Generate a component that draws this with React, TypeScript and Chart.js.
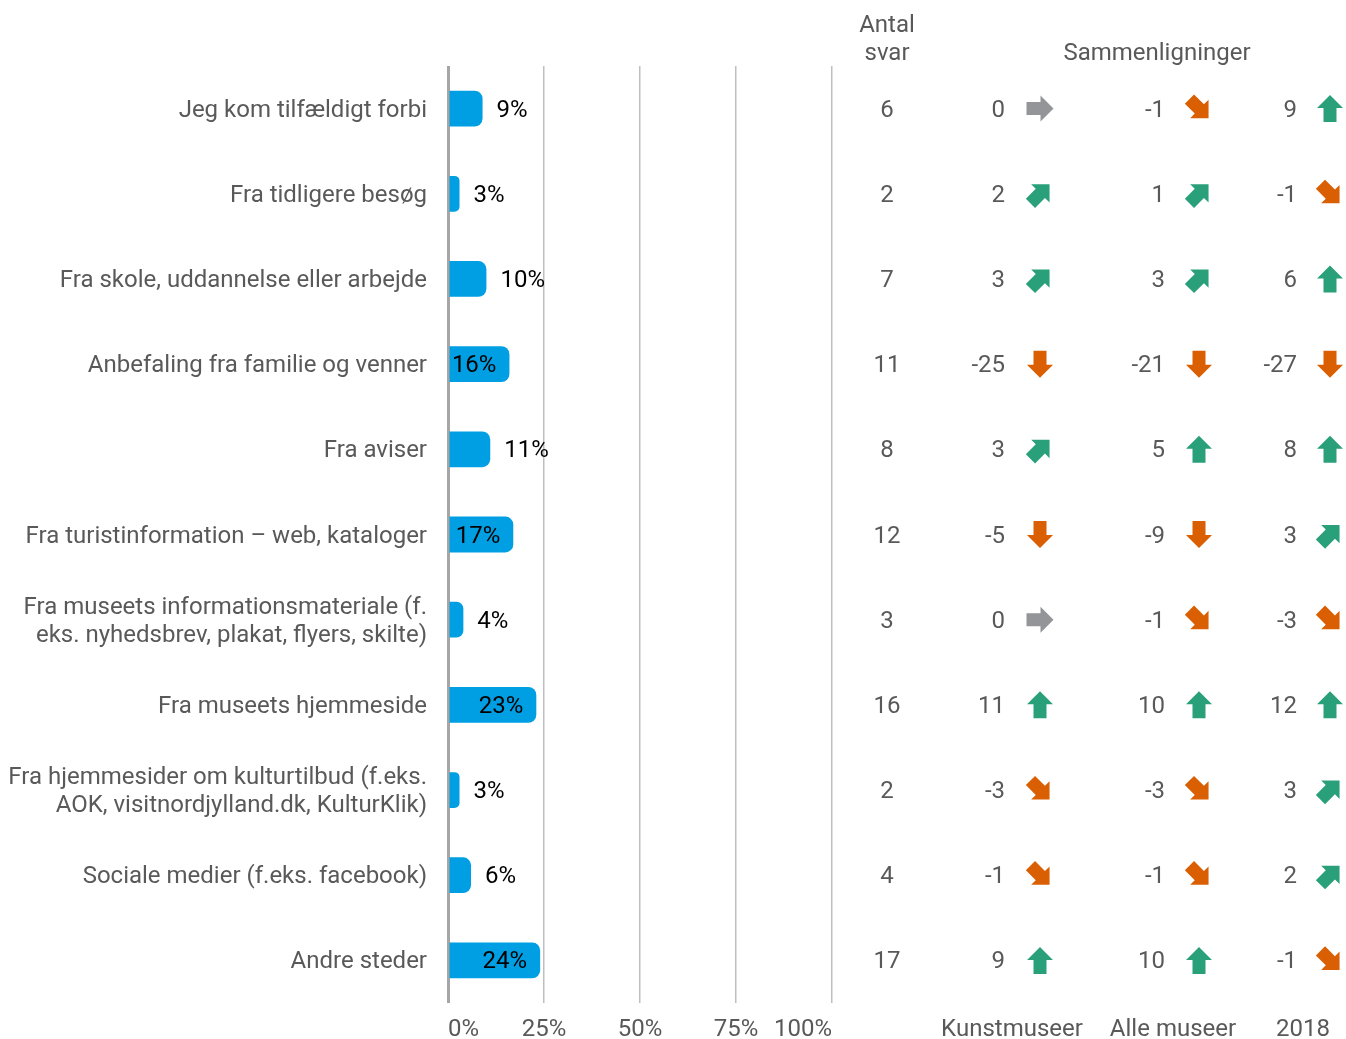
import React, { useEffect, useRef } from 'react';
import { Chart, registerables } from 'chart.js';

Chart.register(...registerables);

const FONT = 'Roboto';
const FS = 24;

const categories: (string | string[])[] = [
  'Jeg kom tilfældigt forbi',
  'Fra tidligere besøg',
  'Fra skole, uddannelse eller arbejde',
  'Anbefaling fra familie og venner',
  'Fra aviser',
  'Fra turistinformation – web, kataloger',
  ['Fra museets informationsmateriale (f.', 'eks. nyhedsbrev, plakat, flyers, skilte)'],
  'Fra museets hjemmeside',
  ['Fra hjemmesider om kulturtilbud (f.eks.', 'AOK, visitnordjylland.dk, KulturKlik)'],
  'Sociale medier (f.eks. facebook)',
  'Andre steder',
];

const percentages = [9, 3, 10, 16, 11, 17, 4, 23, 3, 6, 24];
const antalSvar = [6, 2, 7, 11, 8, 12, 3, 16, 2, 4, 17];
const kunstmuseer = [0, 2, 3, -25, 3, -5, 0, 11, -3, -1, 9];
const alleMuseer = [-1, 1, 3, -21, 5, -9, -1, 10, -3, -1, 10];
const aar2018 = [9, -1, 6, -27, 8, 3, -3, 12, 3, 2, -1];

const xTicks = [0, 25, 50, 75, 100];
const comparisonLabels = ['Kunstmuseer', 'Alle museer', '2018'];
const antalHeader = ['Antal', 'svar'];
const comparisonHeader = 'Sammenligninger';

const TEXT = '#595959';
const BAR = '#009FE3';
const GREEN = '#2AA07A';
const ORANGE = '#D95F02';
const GREY = '#939598';
const DY = 2; // optical vertical correction for 'middle' baseline

function arrowSpec(v: number): { angle: number; color: string } {
  if (v === 0) return { angle: Math.PI / 2, color: GREY };
  if (v >= 5) return { angle: 0, color: GREEN };
  if (v > 0) return { angle: Math.PI / 4, color: GREEN };
  if (v <= -5) return { angle: Math.PI, color: ORANGE };
  return { angle: (3 * Math.PI) / 4, color: ORANGE };
}

function drawArrow(ctx: CanvasRenderingContext2D, cx: number, cy: number, v: number) {
  const { angle, color } = arrowSpec(v);
  ctx.save();
  ctx.translate(cx, cy);
  ctx.rotate(angle);
  ctx.fillStyle = color;
  ctx.beginPath();
  ctx.moveTo(0, -13.5);
  ctx.lineTo(13, -0.5);
  ctx.lineTo(6.5, -0.5);
  ctx.lineTo(6.5, 13.5);
  ctx.lineTo(-6.5, 13.5);
  ctx.lineTo(-6.5, -0.5);
  ctx.lineTo(-13, -0.5);
  ctx.closePath();
  ctx.fill();
  ctx.restore();
}

const overlay = {
  id: 'overlay',
  afterDraw(chart: any) {
    const ctx: CanvasRenderingContext2D = chart.ctx;
    const yScale = chart.scales.y;
    const meta = chart.getDatasetMeta(0);
    ctx.save();
    ctx.font = `${FS}px ${FONT}`;
    ctx.textBaseline = 'middle';

    // category labels (y axis)
    ctx.fillStyle = TEXT;
    ctx.textAlign = 'right';
    const labelX = yScale.right - 21;
    categories.forEach((lab, i) => {
      const y = yScale.getPixelForValue(i) + DY;
      const lines = Array.isArray(lab) ? lab : [lab];
      const lh = 28;
      lines.forEach((ln, k) => {
        ctx.fillText(ln, labelX, y + (k - (lines.length - 1) / 2) * lh);
      });
    });

    // bar labels
    ctx.fillStyle = '#000000';
    meta.data.forEach((bar: any, i: number) => {
      const v = percentages[i];
      const txt = v + '%';
      if (v >= 15) {
        ctx.textAlign = 'right';
        ctx.fillText(txt, bar.x - 13, bar.y + DY);
      } else {
        ctx.textAlign = 'left';
        ctx.fillText(txt, bar.x + 14, bar.y + DY);
      }
    });

    // columns
    const cols = [
      { data: kunstmuseer, valX: 1005, arrowX: 1040 },
      { data: alleMuseer, valX: 1165, arrowX: 1199 },
      { data: aar2018, valX: 1297, arrowX: 1330 },
    ];
    for (let i = 0; i < categories.length; i++) {
      const yc = yScale.getPixelForValue(i);
      const y = yc + DY;
      ctx.fillStyle = TEXT;
      ctx.textAlign = 'center';
      ctx.fillText(String(antalSvar[i]), 887, y);
      cols.forEach((c) => {
        ctx.fillStyle = TEXT;
        ctx.textAlign = 'right';
        ctx.fillText(String(c.data[i]), c.valX, y);
        drawArrow(ctx, c.arrowX, yc, c.data[i]);
      });
    }

    // headers
    ctx.fillStyle = TEXT;
    ctx.textAlign = 'center';
    ctx.fillText(antalHeader[0], 887, 24 + DY);
    ctx.fillText(antalHeader[1], 887, 52 + DY);
    ctx.fillText(comparisonHeader, 1157, 52 + DY);

    // bottom labels
    const bx = [1012, 1173, 1303];
    comparisonLabels.forEach((l, i) => ctx.fillText(l, bx[i], 1028 + DY));
    ctx.restore();
  },
};

export default function App() {
  const ref = useRef<HTMLCanvasElement>(null);
  useEffect(() => {
    const chart = new Chart(ref.current as HTMLCanvasElement, {
      type: 'bar',
      data: {
        labels: categories as any,
        datasets: [
          {
            data: percentages,
            backgroundColor: BAR,
            borderRadius: 8,
            borderSkipped: 'start',
            barPercentage: 0.42,
            categoryPercentage: 1,
          },
        ],
      },
      options: {
        indexAxis: 'y',
        animation: false,
        responsive: true,
        maintainAspectRatio: false,
        layout: { padding: { left: 0, top: 66, right: 514, bottom: 0 } },
        plugins: { legend: { display: false }, tooltip: { enabled: false } },
        scales: {
          x: {
            min: 0,
            max: 100,
            afterBuildTicks: (s: any) => {
              s.ticks = xTicks.map((v) => ({ value: v }));
            },
            ticks: {
              callback: (v: any) => v + '%',
              align: 'inner',
              color: TEXT,
              font: { family: FONT, size: FS },
              padding: 13,
              maxRotation: 0,
              autoSkip: false,
            },
            grid: {
              drawTicks: false,
              color: (c: any) => (c.tick && c.tick.value === 0 ? '#A6A6A6' : '#BFBFBF'),
              lineWidth: (c: any) => (c.tick && c.tick.value === 0 ? 3 : 1.5),
            },
            border: { display: false },
            afterFit: (s: any) => {
              s.height = 36;
            },
          },
          y: {
            ticks: { display: false },
            grid: { display: false },
            border: { display: false },
            afterFit: (s: any) => {
              s.width = 448;
            },
          },
        },
      },
      plugins: [overlay],
    });
    return () => chart.destroy();
  }, []);
  return (
    <div style={{ position: 'fixed', left: 0, top: 0, width: 1346, height: 1039 }}>
      <canvas ref={ref} />
    </div>
  );
}
